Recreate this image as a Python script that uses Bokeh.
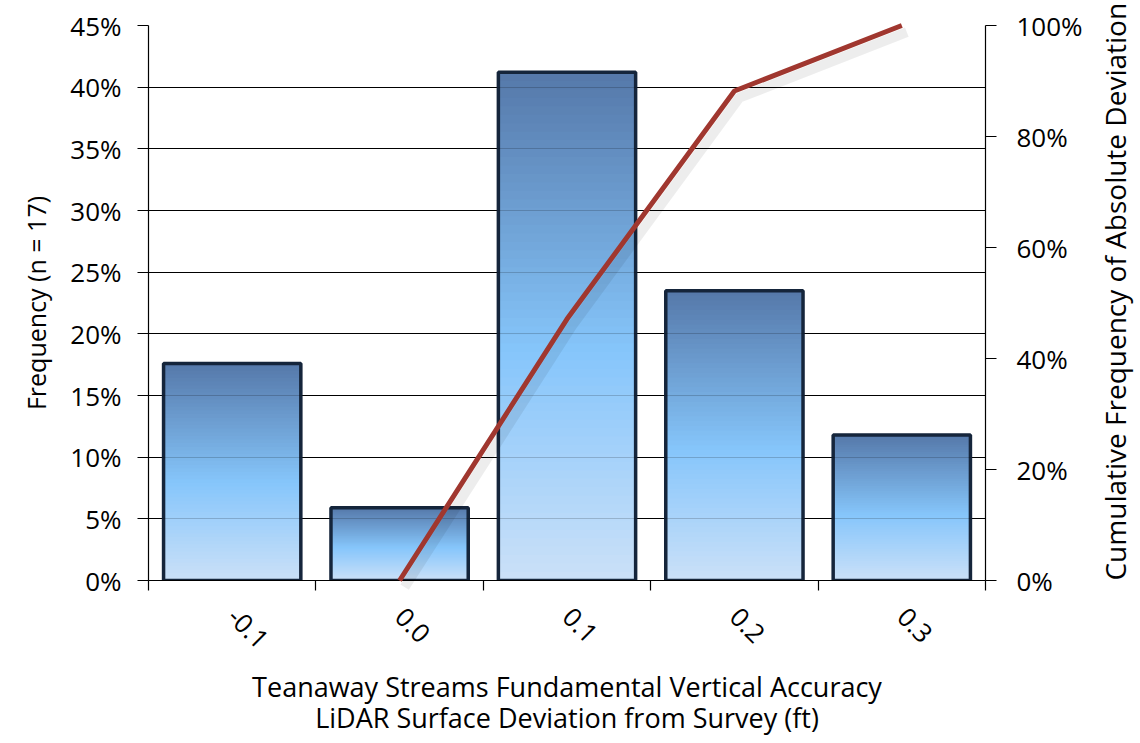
import math
from bokeh.plotting import figure
from bokeh.models import (Range1d, LinearAxis, FixedTicker, NumeralTickFormatter,
                          ColumnDataSource, Grid)
from bokeh.transform import dodge
from bokeh.embed import file_html
from bokeh.resources import INLINE

# ---- data ----
categories = ["-0.1", "0.0", "0.1", "0.2", "0.3"]
frequency = [0.176, 0.059, 0.412, 0.235, 0.118]
cum_categories = ["0.0", "0.1", "0.2", "0.3"]
cumulative = [0.0, 0.471, 0.882, 1.0]
left_ticks = [0.0, 0.05, 0.10, 0.15, 0.20, 0.25, 0.30, 0.35, 0.40, 0.45]
right_ticks = [0.0, 0.2, 0.4, 0.6, 0.8, 1.0]
x_title = "Teanaway Streams Fundamental Vertical Accuracy\nLiDAR Surface Deviation from Survey (ft)"
y_title = "Frequency (n = 17)"
y2_title = "Cumulative Frequency of Absolute Deviation"

FONT = "Open Sans"
TICK_SIZE = "26px"

# gradient stops (fraction of bar height from bottom -> colour)
stops = [(0.0, (0xcb, 0xe0, 0xf8)), (0.45, (0x86, 0xc6, 0xfb)), (1.0, (0x55, 0x78, 0xa9))]


def grad(t):
    for (t0, c0), (t1, c1) in zip(stops[:-1], stops[1:]):
        if t <= t1:
            f = (t - t0) / (t1 - t0)
            c = [round(a + (b - a) * f) for a, b in zip(c0, c1)]
            return "#%02x%02x%02x" % tuple(c)
    return "#%02x%02x%02x" % stops[-1][1]


xpos = list(range(len(categories)))
BAR_W = 0.82
N = 60

p = figure(frame_width=837, frame_height=555,
           min_border_left=148, min_border_right=148, min_border_top=25, min_border_bottom=140,
           x_range=Range1d(-0.5, len(categories) - 0.5),
           y_range=Range1d(left_ticks[0], left_ticks[-1]),
           output_backend="svg", toolbar_location=None, background_fill_color="white",
           border_fill_color="white")
p.outline_line_color = None
p.extra_y_ranges = {"cum": Range1d(right_ticks[0], right_ticks[-1])}

# gradient bars: nested opaque slices (tallest first)
gl, gr, gb, gt, gc = [], [], [], [], []
for k in range(N, 0, -1):
    for x, v in zip(xpos, frequency):
        gl.append(x - BAR_W / 2)
        gr.append(x + BAR_W / 2)
        gb.append(0)
        gt.append(v * k / N)
        gc.append(grad((k - 0.5) / N))
p.quad(left="l", right="r", bottom="b", top="t", fill_color="c", line_color=None,
       source=ColumnDataSource(dict(l=gl, r=gr, b=gb, t=gt, c=gc)))

# bar outlines
p.quad(left=[x - BAR_W / 2 for x in xpos], right=[x + BAR_W / 2 for x in xpos],
       bottom=0, top=frequency, fill_color=None, line_color="#15253b", line_width=3.5)

# faint gridlines seen through bars
faint = Grid(dimension=1, ticker=FixedTicker(ticks=left_ticks), grid_line_color="black",
             grid_line_alpha=0.18, level="guide")
p.add_layout(faint)

# cumulative line
cum_src = ColumnDataSource(dict(x=[categories.index(c) for c in cum_categories], y=cumulative))
p.line(x=dodge("x", 0.03), y=dodge("y", -0.012), source=cum_src, y_range_name="cum",
       line_color="black", line_alpha=0.07, line_width=10, level="annotation")
p.line(x="x", y="y", source=cum_src, y_range_name="cum", line_color="#a0372f",
       line_width=5, level="annotation")

# grid
p.xgrid.visible = False
p.ygrid.ticker = FixedTicker(ticks=left_ticks)
p.ygrid.grid_line_color = "black"
p.ygrid.grid_line_width = 1.2

# left axis
ya = p.yaxis[0]
ya.ticker = FixedTicker(ticks=left_ticks)
ya.formatter = NumeralTickFormatter(format="0%")
ya.major_tick_out = 11
ya.major_tick_in = 0
ya.minor_tick_line_color = None
ya.major_label_standoff = 16
ya.axis_label = y_title
ya.axis_label_standoff = 14
ya.axis_label_text_font_size = "25px"

# right axis
ra = LinearAxis(y_range_name="cum", ticker=FixedTicker(ticks=right_ticks),
                formatter=NumeralTickFormatter(format="0%"))
ra.major_tick_out = 11
ra.major_tick_in = 0
ra.minor_tick_line_color = None
ra.major_label_standoff = 20
ra.axis_label = y2_title
ra.axis_label_standoff = 29
ra.axis_label_orientation = math.pi / 2
ra.axis_label_align = "start"
ra.axis_label_text_font_size = "28px"
p.add_layout(ra, "right")

# bottom axis
xa = p.xaxis[0]
xa.ticker = FixedTicker(ticks=xpos, minor_ticks=[x - 0.5 for x in xpos] + [xpos[-1] + 0.5])
xa.major_label_overrides = {x: c for x, c in zip(xpos, categories)}
xa.major_tick_out = 0
xa.major_tick_in = 0
xa.minor_tick_out = 10
xa.minor_tick_in = 0
xa.minor_tick_line_color = "black"
xa.major_label_orientation = -math.pi / 4
xa.major_label_standoff = 22
xa.axis_label = x_title
xa.axis_label_standoff = 8
xa.axis_label_text_font_size = "27px"
xa.axis_label_text_line_height = 0.85

for ax in (ya, ra, xa):
    ax.major_label_text_font = FONT
    ax.major_label_text_font_size = TICK_SIZE
    ax.major_label_text_color = "black"
    ax.axis_label_text_font = FONT
    ax.axis_label_text_font_style = "normal"
    ax.axis_label_text_color = "black"
    ax.axis_line_color = "black"
    ax.major_tick_line_color = "black"
    ax.axis_line_width = 1.2
    ax.major_tick_line_width = 1.2
    ax.minor_tick_line_width = 1.2

open("out.html", "w").write(file_html(p, INLINE))
